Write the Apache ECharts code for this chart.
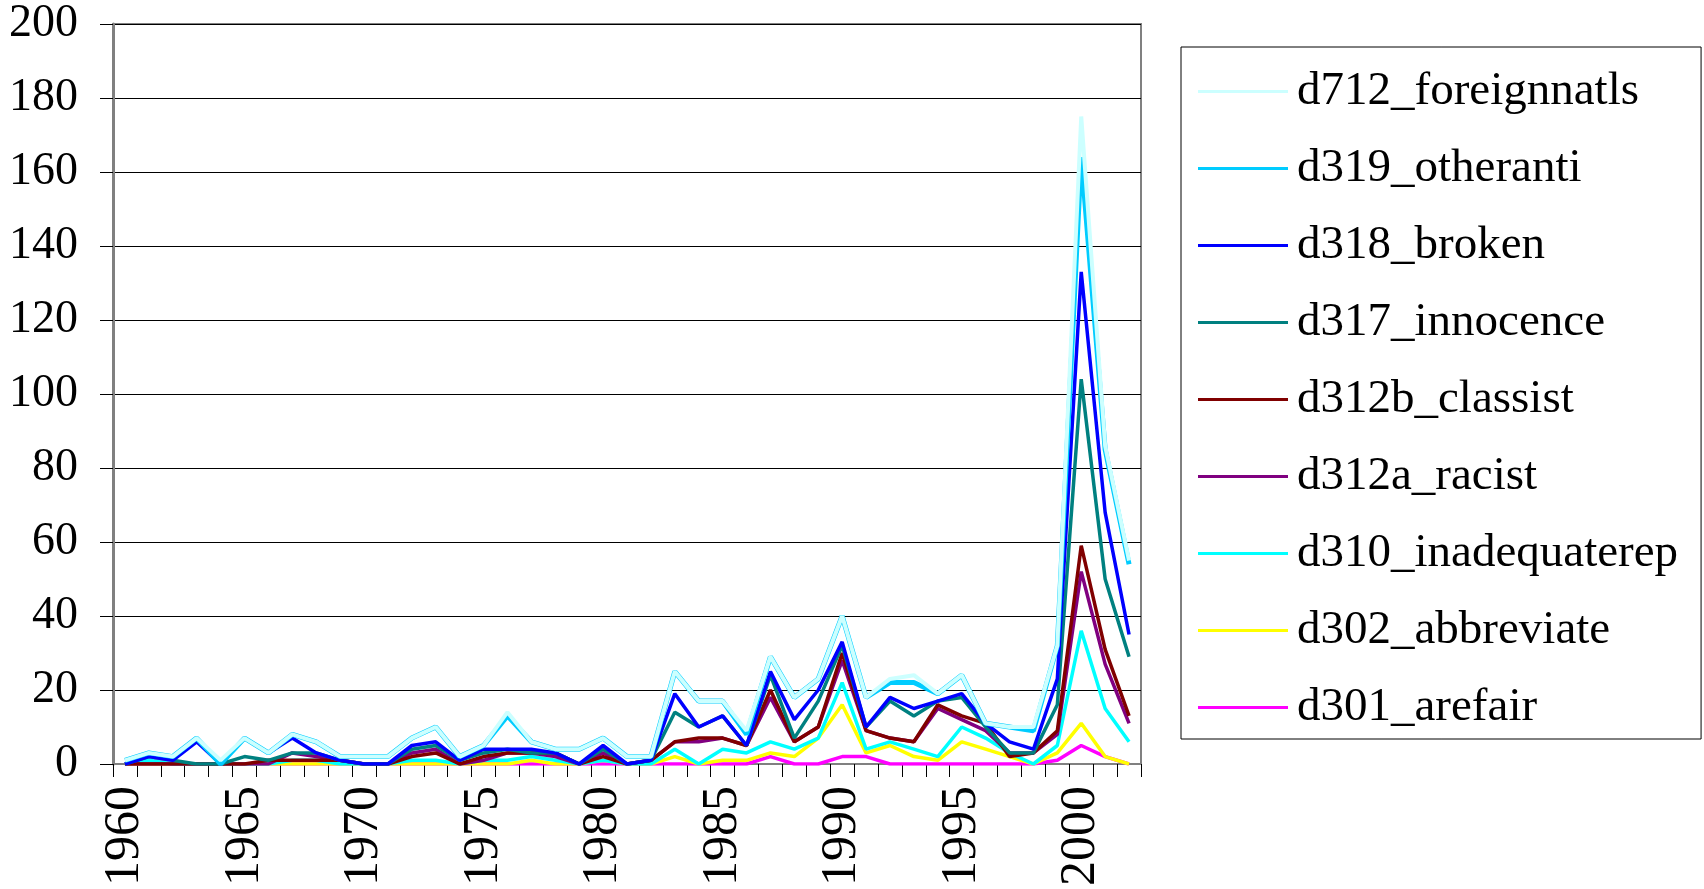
<!DOCTYPE html>
<html>
<head>
<meta charset="utf-8">
<script src="https://cdn.jsdelivr.net/npm/echarts@6/dist/echarts.min.js"></script>
<style>
html,body{margin:0;padding:0;background:#fff;}
#chart{width:1704px;height:889px;}
</style>
</head>
<body>
<div id="chart"></div>
<script>
var years = ['1960','1961','1962','1963','1964','1965','1966','1967','1968','1969',
             '1970','1971','1972','1973','1974','1975','1976','1977','1978','1979',
             '1980','1981','1982','1983','1984','1985','1986','1987','1988','1989',
             '1990','1991','1992','1993','1994','1995','1996','1997','1998','1999',
             '2000','2001','2002'];
var yTicks = [0,20,40,60,80,100,120,140,160,180,200];

var d712_foreignnatls = [1,3,2,7,1,7,3,8,6,2, 2,2,7,10,2,5,14,6,4,4, 7,2,2,25,17,17,9,29,18,23, 40,18,23,24,19,24,11,10,10,32, 175,86,55];
var d319_otheranti    = [1,3,2,7,0,7,3,8,6,2, 2,2,7,10,2,5,13,6,4,4, 7,2,2,25,17,17,8,29,18,23, 40,18,22,22,19,24,11,10,9,32, 164,85,54];
var d318_broken       = [0,2,1,6,0,7,3,7,3,1, 0,0,5,6,1,4,4,4,3,0, 5,0,1,19,10,13,5,25,12,20, 33,10,18,15,17,19,11,6,4,23, 133,68,35];
var d317_innocence    = [0,2,1,0,0,2,1,3,3,1, 0,0,4,5,1,3,4,3,3,0, 4,0,1,14,10,13,5,24,7,17, 32,10,17,13,17,18,10,3,3,16, 104,50,29];
var d312b_classist    = [0,0,0,0,0,0,1,1,1,1, 0,0,2,3,0,2,3,3,3,0, 2,0,1,6,7,7,5,20,6,10, 30,9,7,6,16,13,11,2,3,9, 59,31,13];
var d312a_racist      = [0,0,0,0,0,0,0,3,2,1, 0,0,3,4,0,1,3,3,2,0, 3,0,1,6,6,7,5,18,6,10, 28,9,7,6,15,12,9,3,3,8, 52,27,11];
var d310_inadequaterep= [0,1,0,0,0,0,0,1,1,0, 0,0,1,1,0,1,1,2,1,0, 1,0,0,4,0,4,3,6,4,7, 22,4,6,4,2,10,7,3,0,5, 36,15,6];
var d302_abbreviate   = [0,0,0,0,0,0,0,0,0,0, 0,0,0,0,0,0,0,1,0,0, 1,0,0,2,0,1,1,3,2,7, 16,3,5,2,1,6,4,2,0,3, 11,2,0];
var d301_arefair      = [0,1,0,0,0,0,0,0,0,0, 0,0,0,0,0,0,0,0,0,0, 0,0,0,0,0,0,0,2,0,0, 2,2,0,0,0,0,0,0,0,1, 5,2,0];

var seriesNames = ['d712_foreignnatls','d319_otheranti','d318_broken','d317_innocence',
                   'd312b_classist','d312a_racist','d310_inadequaterep','d302_abbreviate','d301_arefair'];
var seriesData = [d712_foreignnatls,d319_otheranti,d318_broken,d317_innocence,
                  d312b_classist,d312a_racist,d310_inadequaterep,d302_abbreviate,d301_arefair];
var seriesColors = ['#CCFFFF','#00CCFF','#0000FF','#008080','#800000','#800080','#00FFFF','#FFFF00','#FF00FF'];
var seriesWidths = [4,5,3.5,3.5,3.5,3.5,3.5,3.5,3.5];

var FONT = '"Liberation Serif","Times New Roman",serif';

var series = [];
// draw last legend entry first so the first entry ends on top
for (var i = seriesNames.length - 1; i >= 0; i--) {
  series.push({
    name: seriesNames[i],
    type: 'line',
    data: seriesData[i],
    symbol: 'none',
    showSymbol: false,
    color: seriesColors[i],
    lineStyle: {color: seriesColors[i], width: seriesWidths[i]},
    itemStyle: {color: seriesColors[i]},
    emphasis: {disabled: true},
    animation: false
  });
}

var chart = echarts.init(document.getElementById('chart'), null, {renderer: 'canvas'});
chart.setOption({
  backgroundColor: '#ffffff',
  animation: false,
  grid: {left: 113, top: 24, width: 1028, height: 740, show: true,
         borderColor: '#808080', borderWidth: 2, backgroundColor: 'transparent'},
  legend: {
    data: seriesNames,
    orient: 'vertical',
    left: 1181, top: 47,
    padding: [21, 23, 8, 17],
    itemWidth: 90, itemHeight: 3, itemGap: 30,
    icon: 'rect',
    borderColor: '#000', borderWidth: 1,
    backgroundColor: '#fff',
    selectedMode: false,
    textStyle: {fontFamily: FONT, fontSize: 47, color: '#000', padding: [0, 0, 0, 4]}
  },
  xAxis: {
    type: 'category',
    data: years,
    boundaryGap: true,
    axisLine: {show: true, lineStyle: {color: '#808080', width: 2}},
    axisTick: {show: true, interval: 0, length: 13, lineStyle: {color: '#000', width: 1}},
    axisLabel: {interval: 4, rotate: 90, margin: 22, fontFamily: FONT, fontSize: 50, color: '#000'},
    splitLine: {show: false}
  },
  yAxis: {
    type: 'value',
    min: yTicks[0], max: yTicks[yTicks.length - 1], interval: 20,
    axisLine: {show: true, lineStyle: {color: '#808080', width: 3}},
    axisTick: {show: true, length: 13, lineStyle: {color: '#000', width: 1}},
    axisLabel: {margin: 35, fontFamily: FONT, fontSize: 46, color: '#000'},
    splitLine: {show: true, lineStyle: {color: '#000', width: 1}}
  },
  series: series
});
</script>
</body>
</html>
